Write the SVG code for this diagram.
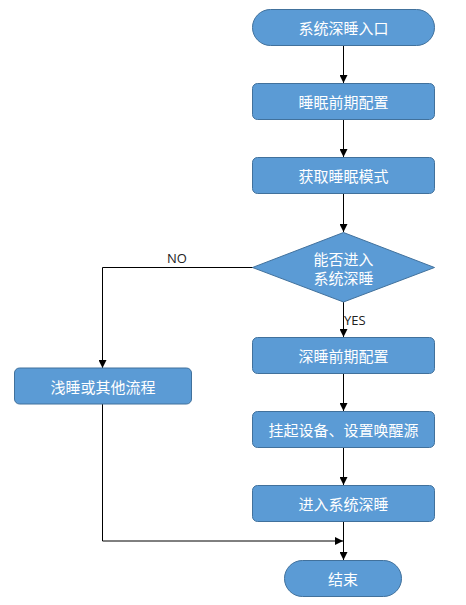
<svg xmlns="http://www.w3.org/2000/svg" width="466" height="605" viewBox="0 0 466 605">
<style>
.n{fill:#5B9BD5;stroke:#41719C;stroke-width:1}
.t{fill:#fff;font-family:"Noto Sans CJK SC",sans-serif;font-size:15px;text-anchor:middle;dominant-baseline:central}
.c{fill:none;stroke:#000;stroke-width:1}
.l{fill:#222;font-family:"Open Sans","Liberation Sans",sans-serif;font-size:13px}
</style>
<defs>
<marker id="a" viewBox="0 0 10 10" refX="10" refY="5" markerWidth="8" markerHeight="8" markerUnits="userSpaceOnUse" orient="auto">
<path d="M0,0L10,5L0,10z" fill="#000"/>
</marker>
</defs>
<rect width="466" height="605" fill="#fff"/>
<g id="connectors">
<path class="c" d="M343.5,46V83" marker-end="url(#a)"/>
<path class="c" d="M343.5,120V157" marker-end="url(#a)"/>
<path class="c" d="M343.5,194V232" marker-end="url(#a)"/>
<path class="c" d="M253,267.5H102.5V368" marker-end="url(#a)"/>
<path class="c" d="M343.5,302V337" marker-end="url(#a)"/>
<path class="c" d="M343.5,374V411" marker-end="url(#a)"/>
<path class="c" d="M343.5,448V485" marker-end="url(#a)"/>
<path class="c" d="M343.5,522V560" marker-end="url(#a)"/>
<path class="c" d="M102.5,404V541H343" marker-end="url(#a)"/>
<text class="l" x="177" y="263" text-anchor="middle">NO</text>
<text class="l" x="344" y="325">YES</text>
</g>
<g id="start"><rect class="n" x="252.5" y="9.5" width="182" height="36" rx="18"/><text class="t" x="343.5" y="27.5">系统深睡入口</text></g>
<g id="pre-sleep"><rect class="n" x="252.5" y="83.5" width="182" height="36" rx="5"/><text class="t" x="343.5" y="101.5">睡眠前期配置</text></g>
<g id="get-mode"><rect class="n" x="252.5" y="157.5" width="182" height="36" rx="5"/><text class="t" x="343.5" y="175.5">获取睡眠模式</text></g>
<g id="decision"><path class="n" d="M343.5,232.5L434.5,267.5L343.5,302L252.5,267.5Z"/><text class="t" x="343.5" y="258">能否进入</text><text class="t" x="343.5" y="277">系统深睡</text></g>
<g id="deep-pre"><rect class="n" x="252.5" y="337.5" width="182" height="36" rx="5"/><text class="t" x="343.5" y="355.5">深睡前期配置</text></g>
<g id="light"><rect class="n" x="14.5" y="368" width="177" height="36" rx="5"/><text class="t" x="103" y="386">浅睡或其他流程</text></g>
<g id="suspend"><rect class="n" x="252.5" y="411.5" width="182" height="36" rx="5"/><text class="t" x="343.5" y="429.5">挂起设备、设置唤醒源</text></g>
<g id="enter"><rect class="n" x="252.5" y="485.5" width="182" height="36" rx="5"/><text class="t" x="343.5" y="503.5">进入系统深睡</text></g>
<g id="end"><rect class="n" x="284.5" y="560.5" width="117" height="36" rx="18"/><text class="t" x="343" y="578.5">结束</text></g>
</svg>
